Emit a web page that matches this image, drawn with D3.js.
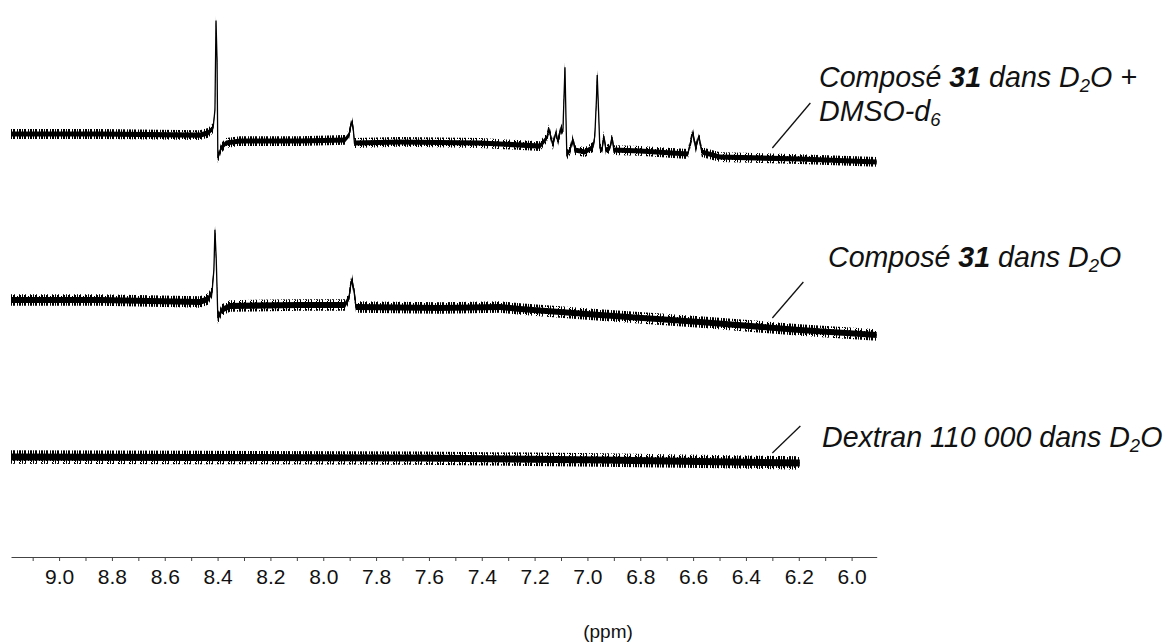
<!DOCTYPE html>
<html><head><meta charset="utf-8">
<script src="https://cdn.jsdelivr.net/npm/d3@7"></script>
<style>
body{margin:0;background:#fff}
text{font-family:"Liberation Sans",Arial,sans-serif}
</style></head>
<body><svg id="c" width="1175" height="644"></svg>
<script>
// ---- data ----
const majorTicks = [9.0,8.8,8.6,8.4,8.2,8.0,7.8,7.6,7.4,7.2,7.0,6.8,6.6,6.4,6.2,6.0];
const minorTicks = [9.1,8.9,8.7,8.5,8.3,8.1,7.9,7.7,7.5,7.3,7.1,6.9,6.7,6.5,6.3,6.1];
const axisTitle = "(ppm)";

// [ppm, relative intensity]
const spectrumDMSO = [[9.182,0],[8.845,0],[8.467,-0.9],[8.436,0.9],[8.417,5.1],[8.410,20.5],[8.406,97],[8.402,63],[8.399,-20.5],[8.387,-12],[8.368,-7.7],[8.315,-6],[8.088,-6],[7.918,-5.1],[7.903,-0.9],[7.895,7.7],[7.891,10.2],[7.887,6],[7.882,-7.7],[7.710,-6.8],[7.407,-7.7],[7.180,-10.3],[7.154,-3.4],[7.146,4],[7.138,-2.6],[7.131,-9.4],[7.119,1.7],[7.112,-6.8],[7.100,4.8],[7.093,1.7],[7.089,29],[7.085,57],[7.081,12],[7.078,-17.9],[7.066,-13.7],[7.055,-4.3],[7.047,-13.7],[7.009,-15.4],[6.979,-11.1],[6.972,-1.7],[6.966,29],[6.963,50.5],[6.958,20.5],[6.953,-12],[6.945,-13.7],[6.938,-1.7],[6.930,-13.7],[6.915,-12],[6.907,-2.6],[6.900,-13.7],[6.801,-14.5],[6.620,-17.1],[6.601,1.4],[6.590,-12],[6.578,-1.7],[6.567,-15.4],[6.498,-19.7],[6.196,-21.4],[5.905,-23.9]];
const spectrumD2O = [[9.182,0],[8.845,0],[8.467,-1.7],[8.436,0.9],[8.421,6.8],[8.414,25.6],[8.410,60],[8.405,34.2],[8.399,-15.4],[8.384,-8.5],[8.353,-5.1],[8.088,-4.3],[7.918,-4.3],[7.903,1.7],[7.895,14.5],[7.891,17],[7.884,8.5],[7.876,-6],[7.558,-6.8],[7.331,-6],[7.255,-7.7],[6.953,-12.8],[6.574,-18.8],[6.196,-25.6],[5.905,-29.9]];
const spectrumDextran = [[9.182,0],[8.467,-0.4],[7.634,-0.9],[6.953,-2.6],[6.574,-3.8],[6.196,-5.1]];
const noiseLevels = [2.2, 2.6, 3.0];
const labelAnchorPpm = [6.3, 6.3, 6.3];

// ---- layout ----
const svg = d3.select("#c");
const defs = svg.append("defs");
// hatch texture for the noise fringe (style only)
const pat = defs.append("pattern").attr("id", "fringe").attr("patternUnits", "userSpaceOnUse")
  .attr("width", 11).attr("height", 7);
[[0,0,7],[2,1,5],[3,0,7],[6,2,4],[8,0,6],[9,1,7]].forEach(p => {
  pat.append("rect").attr("x", p[0]).attr("y", p[1]).attr("width", 1).attr("height", p[2]).attr("fill", "#000");
});

const x = d3.scaleLinear().domain([9.182, 5.905]).range([11, 876.7]);
const axisY = 557;
const baselines = [134, 300, 457];
const spectra = [spectrumDMSO, spectrumD2O, spectrumDextran];

spectra.forEach((s, i) => {
  const y = d3.scaleLinear().domain([0, 100]).range([baselines[i], baselines[i] - 117]);
  const n = noiseLevels[i];
  svg.append("path").datum(s)
    .attr("d", d3.area().x(d => x(d[0])).y0(d => y(d[1] - n * 1.9)).y1(d => y(d[1] + n * 1.9)))
    .attr("fill", "url(#fringe)");
  svg.append("path").datum(s)
    .attr("d", d3.area().x(d => x(d[0])).y0(d => y(d[1] - n)).y1(d => y(d[1] + n)))
    .attr("fill", "#000");
  svg.append("path").datum(s)
    .attr("d", d3.line().x(d => x(d[0])).y(d => y(d[1])))
    .attr("fill", "none").attr("stroke", "#000").attr("stroke-width", 1.3);
});

// axis
const majSet = new Set(majorTicks.map(d => d.toFixed(1)));
const allTicks = majorTicks.concat(minorTicks).sort((a, b) => b - a);
const ax = svg.append("g").attr("transform", `translate(0,${axisY})`)
  .call(d3.axisBottom(x).tickValues(allTicks).tickSize(4).tickSizeOuter(0)
    .tickFormat(d => majSet.has(d.toFixed(1)) ? d.toFixed(1) : ""));
ax.select(".domain").attr("stroke", "#444");
ax.selectAll(".tick line").attr("stroke", "#444");
ax.selectAll(".tick text").attr("font-size", 21).attr("font-family", "Liberation Sans, Arial, sans-serif").attr("fill", "#111").attr("y", 12);

svg.append("text").attr("x", 608).attr("y", 638).attr("text-anchor", "middle")
  .attr("font-size", 19).attr("fill", "#111").text(axisTitle);

// labels
function label(xp, yp, parts) {
  const t = svg.append("text").attr("x", xp).attr("y", yp)
    .attr("font-size", 28.6).attr("font-style", "italic").attr("fill", "#111");
  parts.forEach(p => {
    const ts = t.append("tspan").text(p.t);
    if (p.b) ts.attr("font-weight", "bold");
    if (p.sub) ts.attr("font-size", 18.5).attr("dy", 5);
    if (p.after) ts.attr("dy", -5);
  });
  return t;
}
label(819, 87, [{t:"Composé "},{t:"31",b:1},{t:" dans D"},{t:"2",sub:1},{t:"O +",after:1}]);
label(819, 121, [{t:"DMSO-d"},{t:"6",sub:1}]);
label(828, 267, [{t:"Composé "},{t:"31",b:1},{t:" dans D"},{t:"2",sub:1},{t:"O",after:1}]);
label(822, 447, [{t:"Dextran 110 000 dans D"},{t:"2",sub:1},{t:"O",after:1}]);

// leader lines
const leaders = [[148, 38, -45], [318, 31, -36], [453, 28, -27]];
leaders.forEach((l, i) => {
  const x0 = x(labelAnchorPpm[i]);
  svg.append("line").attr("x1", x0).attr("y1", l[0]).attr("x2", x0 + l[1]).attr("y2", l[0] + l[2])
    .attr("stroke", "#111").attr("stroke-width", 1.3);
});
</script>
</body></html>
